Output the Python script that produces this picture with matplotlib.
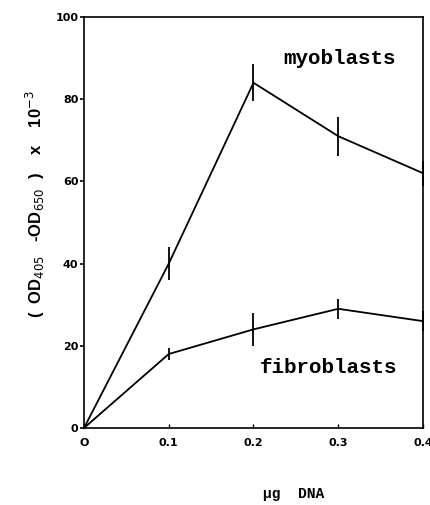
import matplotlib
matplotlib.use("Agg")
import matplotlib.pyplot as plt

dna = [0.0, 0.1, 0.2, 0.3, 0.4]
myoblasts = [0, 40, 84, 71, 62]
myoblasts_err = [0, 4, 4.5, 4.7, 3]
fibroblasts = [0, 18, 24, 29, 26]
fibroblasts_err = [0, 1.5, 4, 2.5, 2.5]
xticks = [0, 0.1, 0.2, 0.3, 0.4]
xticklabels = ["O", "0.1", "0.2", "0.3", "0.4"]
yticks = [0, 20, 40, 60, 80, 100]

fig = plt.figure(figsize=(4.31, 5.05), dpi=100)
ax = fig.add_axes([84/431, 1-428/505, (423-84)/431, (428-17)/505])

ax.errorbar(dna, myoblasts, yerr=myoblasts_err, color="black", lw=1.3,
            elinewidth=1.3, capsize=0, clip_on=False)
ax.errorbar(dna, fibroblasts, yerr=fibroblasts_err, color="black", lw=1.3,
            elinewidth=1.3, capsize=0, clip_on=False)

ax.set_xlim(0, 0.4)
ax.set_ylim(0, 100)
ax.set_xticks(xticks)
ax.set_xticklabels(xticklabels)
ax.set_yticks(yticks)
for s in ax.spines.values():
    s.set_linewidth(1.2)
ax.tick_params(axis="y", direction="out", length=3, width=1.2, pad=1)
ax.tick_params(axis="x", direction="in", length=3, width=1.0, pad=7)
for lab in ax.get_xticklabels() + ax.get_yticklabels():
    lab.set_fontweight("bold")
    lab.set_fontsize(8)

mono = "Liberation Mono"
ax.text(0.301, 90, "myoblasts", family=mono, fontsize=15, fontweight="bold",
        ha="center", va="center")
ax.text(0.288, 14.8, "fibroblasts", family=mono, fontsize=15, fontweight="bold",
        ha="center", va="center")

fig.text(35/431, 1-204/505, r"(  OD$_{405}$   -OD$_{650}$  )    x    10$^{-3}$", rotation=90,
         family="Liberation Sans", fontsize=12, fontweight="bold", ha="center", va="center")
fig.text(294/431, 1-494/505, "µg  DNA", family=mono, fontsize=10.5,
         fontweight="bold", ha="center", va="center")

fig.savefig("out.png", dpi=100)
